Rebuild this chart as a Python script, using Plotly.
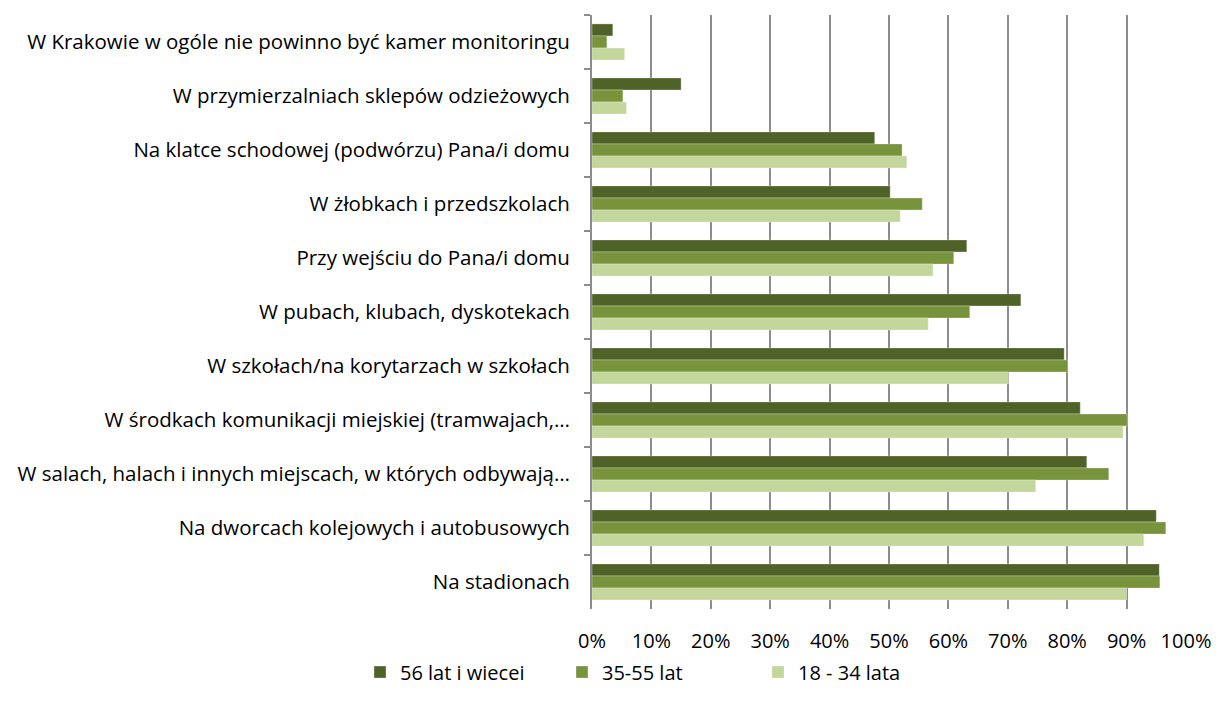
import plotly.graph_objects as go

categories = [
    "W Krakowie w ogóle nie powinno być kamer monitoringu",
    "W przymierzalniach sklepów odzieżowych",
    "Na klatce schodowej (podwórzu) Pana/i domu",
    "W żłobkach i przedszkolach",
    "Przy wejściu do Pana/i domu",
    "W pubach, klubach, dyskotekach",
    "W szkołach/na korytarzach w szkołach",
    "W środkach komunikacji miejskiej (tramwajach,…",
    "W salach, halach i innych miejscach, w których odbywają…",
    "Na dworcach kolejowych i autobusowych",
    "Na stadionach",
]
series_names = ["56 lat i wiecei", "35-55 lat", "18 - 34 lata"]
v56 = [3.5, 15.0, 47.6, 50.2, 63.1, 72.2, 79.5, 82.2, 83.3, 95.0, 95.5]
v35 = [2.5, 5.2, 52.2, 55.6, 60.9, 63.6, 80.1, 90.1, 87.0, 96.6, 95.6]
v18 = [5.5, 5.8, 53.0, 51.9, 57.4, 56.6, 70.1, 89.4, 74.7, 92.9, 90.0]
colors = ["#4F6228", "#77933C", "#C3D69B"]
xticks = [0, 10, 20, 30, 40, 50, 60, 70, 80, 90, 100]

W, H = 1211, 702
legend_ids = ["legend", "legend2", "legend3"]
legend_left_px = [360, 562, 758]

fig = go.Figure()
for name, vals, col, lg in zip(series_names, [v56, v35, v18], colors, legend_ids):
    fig.add_trace(go.Bar(
        y=categories, x=vals, name=name, orientation="h", legend=lg,
        marker=dict(color=col, line=dict(color="rgba(255,255,255,0.6)", width=0.5)),
    ))

legend_common = dict(orientation="h", xref="container", yref="container",
                      xanchor="left", yanchor="middle", y=0.054,
                      font=dict(size=20), bgcolor="rgba(0,0,0,0)")
fig.update_layout(
    width=W, height=H,
    barmode="group", bargap=0.33, bargroupgap=0,
    margin=dict(l=584, r=33, t=7, b=101),
    plot_bgcolor="white", paper_bgcolor="white",
    font=dict(family="Open Sans, Noto Sans, sans-serif", size=20.5, color="#000000"),
    showlegend=True,
    legend=dict(x=(legend_left_px[0] - 8) / W, **legend_common),
    legend2=dict(x=(legend_left_px[1] - 8) / W, **legend_common),
    legend3=dict(x=(legend_left_px[2] - 8) / W, **legend_common),
)
fig.update_xaxes(
    range=[0, 100], tickvals=xticks, ticktext=[f"{t}%" for t in xticks],
    showgrid=True, gridcolor="#8C8C8C", gridwidth=2,
    showline=False, zeroline=False, ticks="", tickfont=dict(size=20),
    ticklabelstandoff=18, automargin=False,
)
fig.update_yaxes(
    autorange="reversed", showline=True, linecolor="#8C8C8C", linewidth=2,
    ticks="outside", tickson="boundaries", ticklen=6, tickcolor="#8C8C8C", tickwidth=2,
    showgrid=False, tickfont=dict(size=20.5), ticklabelstandoff=16, automargin=False,
)
fig.write_html("out.html")
